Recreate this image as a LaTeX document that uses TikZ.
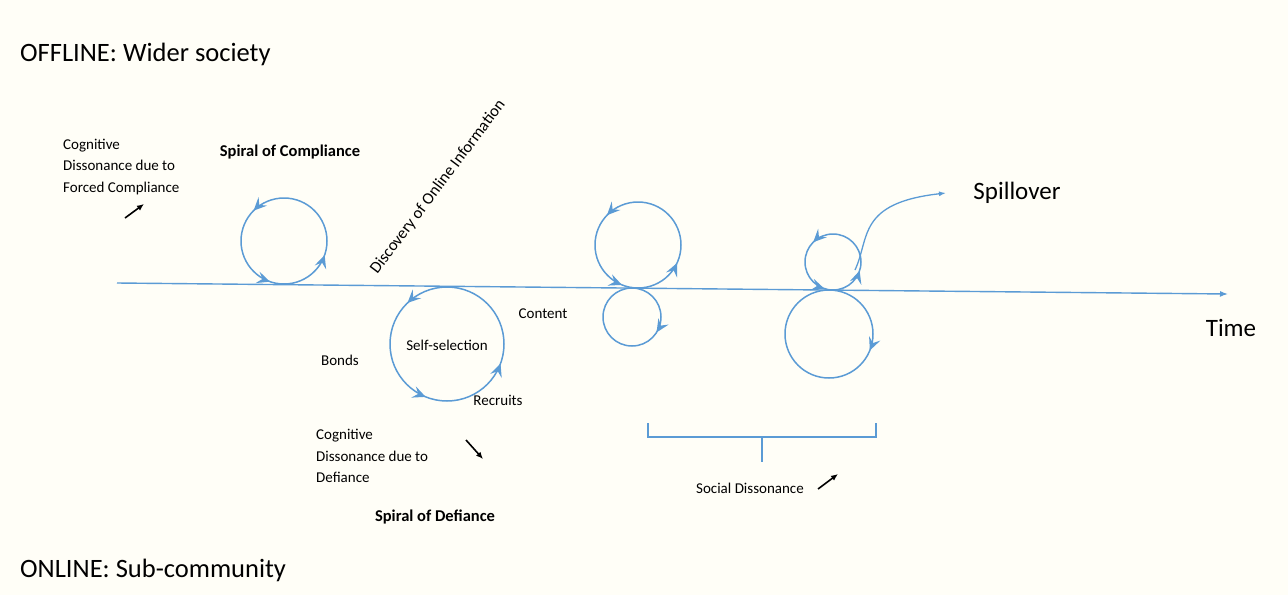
\documentclass[tikz,border=0pt]{standalone}
\usepackage{fontspec}
\setmainfont{Carlito}
\usetikzlibrary{arrows.meta,decorations.markings}
\definecolor{lineblue}{RGB}{91,155,213}
\definecolor{bgcream}{RGB}{255,254,247}
\tikzset{
  blueline/.style={draw=lineblue, color=lineblue, line width=1.5pt},
  looptip/.tip={Stealth[length=13pt,width=12pt,inset=5pt]},
  looparrow/.style={postaction={decorate, decoration={markings, mark=at position #1 with {\arrow{looptip}}}}},
  small/.style={font=\fontsize{15}{21.5}\selectfont, inner sep=0pt, align=left},
  smallbold/.style={font=\fontsize{16.5}{20}\selectfont\bfseries, inner sep=0pt},
  big/.style={font=\fontsize{25}{30}\selectfont, inner sep=0pt},
  heading/.style={font=\fontsize{26.5}{30}\selectfont, inner sep=0pt},
  blackarrow/.style={-{Latex[length=7pt,width=6pt]}, line width=1.6pt, black},
  bracketline/.style={draw=lineblue, line width=1.2pt},
}
\newcommand{\ccwloop}[3]{% center, radius, marks
  \path[blueline, #3] (#1) ++(#2,0) arc[start angle=0, end angle=-360, radius=#2];}
\newcommand{\cwloop}[3]{% center, radius, marks
  \path[blueline, #3] (#1) ++(#2,0) arc[start angle=0, end angle=360, radius=#2];}
\begin{document}
\begin{tikzpicture}[x=1pt,y=-1pt]
\fill[bgcream] (0,0) rectangle (1288,595);
\useasboundingbox (0,0) rectangle (1288,595);

% headings
\node[heading, anchor=west] (offline) at (20,54) {OFFLINE: Wider society};
\node[heading, anchor=west] (online) at (20,570) {ONLINE: Sub-community};

% time axis
\coordinate (t0) at (117,283);
\coordinate (t1) at (1228,294);
\draw[blueline, line width=1.4pt, -{Latex[length=8pt,width=6pt]}] (t0) -- (t1);
\node[big] (time) at (1231,328) {Time};

% spiral of compliance
\coordinate (c1) at (284,241);
\ccwloop{c1}{43}{looparrow=0.375, looparrow=0.947, looparrow=0.697}
\node[smallbold] (spc) at (290,152) {Spiral of Compliance};
\node[small, anchor=west] (cdfc) at (63,167) {Cognitive\\Dissonance due to\\Forced Compliance};
\coordinate (a1s) at (125,218);
\coordinate (a1e) at (144,204);
\draw[blackarrow] (a1s) -- (a1e);

% discovery
\node[small, font=\fontsize{16.5}{20}\selectfont, rotate=53] (disc) at (438,187) {Discovery of Online Information};

% self-selection loop
\coordinate (c2) at (447,344);
\ccwloop{c2}{57}{looparrow=0.372, looparrow=0.944, looparrow=0.689}
\node[small] (self) at (447,345) {Self-selection};
\node[small] (content) at (543,314) {Content};
\node[small] (bonds) at (340,360) {Bonds};
\node[small] (recruits) at (498,400) {Recruits};
\node[small, anchor=west] (cdd) at (316,456) {Cognitive\\Dissonance due to\\Defiance};
\coordinate (a2s) at (466,440);
\coordinate (a2e) at (483,459);
\draw[blackarrow] (a2s) -- (a2e);
\node[smallbold] (spd) at (435,517) {Spiral of Defiance};

% third pair
\coordinate (c3) at (638,245);
\ccwloop{c3}{43}{looparrow=0.378, looparrow=0.931, looparrow=0.689}
\coordinate (c4) at (632,317);
\cwloop{c4}{29}{looparrow=0.089}

% fourth pair
\coordinate (c5) at (833,262);
\ccwloop{c5}{28}{looparrow=0.375, looparrow=0.95, looparrow=0.70}
\coordinate (c6) at (829,334);
\cwloop{c6}{44}{looparrow=0.061}

% spillover
\node[big] (spill) at (1017,193) {Spillover};
\coordinate (sp0) at (855,270);
\coordinate (sp1) at (870,238);
\coordinate (sp2) at (857,203);
\coordinate (sp3) at (946,193);
\draw[blueline, line width=1.3pt, -{Latex[length=7pt,width=5pt]}] (sp0) .. controls (sp1) and (sp2) .. (sp3);

% bracket
\coordinate (b1) at (648,423);
\coordinate (b2) at (648,437);
\coordinate (b3) at (876,437);
\coordinate (b4) at (876,423);
\coordinate (b5) at (762,437);
\coordinate (b6) at (762,462);
\draw[bracketline] (b1) -- (b2) -- (b3) -- (b4);
\draw[bracketline] (b5) -- (b6);
\node[small] (social) at (750,488) {Social Dissonance};
\coordinate (a3s) at (818,489);
\coordinate (a3e) at (838,474);
\draw[blackarrow] (a3s) -- (a3e);
\end{tikzpicture}
\end{document}
